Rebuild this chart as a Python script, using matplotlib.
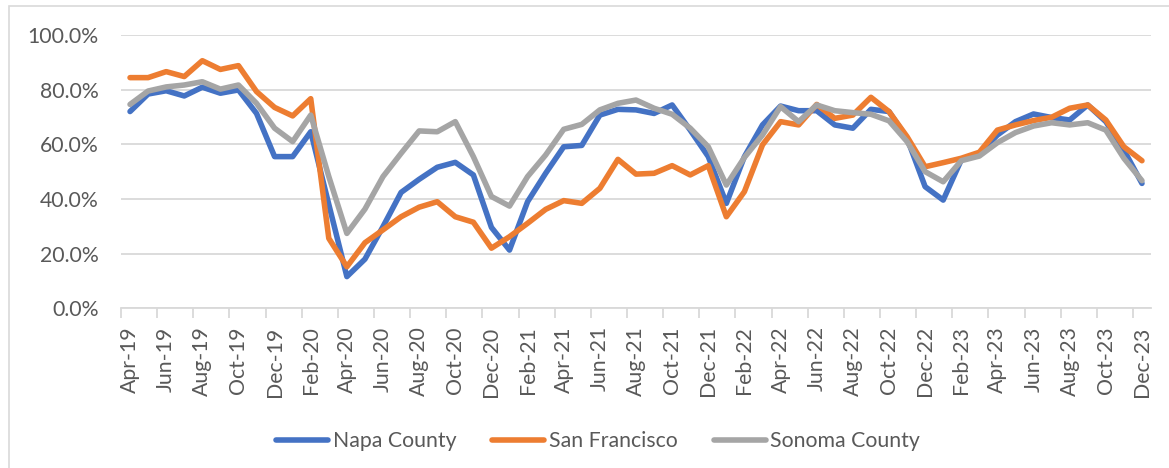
import matplotlib
matplotlib.use('Agg')
import matplotlib.pyplot as plt
import numpy as np
import pandas as pd
from matplotlib.patches import Rectangle
from matplotlib.ticker import PercentFormatter

months = pd.date_range('2019-04-01', '2023-12-01', freq='MS').strftime('%b-%y').tolist()

napa = [72.0, 78.4, 79.6, 77.7, 80.9, 78.7, 79.9, 71.3, 55.5, 55.5, 64.6, 38.0,
        11.6, 18.0, 29.9, 42.4, 47.2, 51.6, 53.4, 48.8, 29.6, 21.3, 39.0, 49.4,
        59.1, 59.6, 70.7, 72.8, 72.6, 71.3, 74.4, 65.2, 55.5, 38.4, 55.5, 67.1,
        74.0, 72.3, 72.3, 67.1, 65.9, 72.8, 72.0, 62.2, 44.5, 39.6, 54.3, 56.7,
        63.4, 68.3, 71.1, 69.8, 68.9, 74.4, 68.3, 57.9, 45.7]
san_francisco = [84.4, 84.4, 86.6, 84.8, 90.6, 87.4, 88.8, 79.3, 73.5, 70.4, 76.7, 25.6,
                 15.2, 24.0, 28.7, 33.5, 37.0, 39.0, 33.5, 31.5, 22.0, 26.2, 31.1, 36.2,
                 39.4, 38.4, 43.9, 54.5, 49.1, 49.4, 52.2, 48.8, 52.2, 33.5, 42.7, 59.8,
                 68.3, 67.1, 74.6, 69.5, 70.7, 77.2, 72.0, 62.8, 51.8, 53.3, 54.9, 57.1,
                 65.2, 67.1, 68.7, 69.9, 73.2, 74.4, 68.9, 59.1, 54.0]
sonoma = [74.6, 79.5, 81.0, 81.7, 82.9, 80.2, 81.7, 75.0, 65.9, 61.0, 70.7, 48.2,
          27.4, 36.3, 48.2, 56.7, 64.9, 64.6, 68.3, 55.5, 40.9, 37.4, 48.2, 56.1,
          65.5, 67.3, 72.6, 75.0, 76.2, 73.2, 71.0, 65.9, 59.1, 45.1, 55.2, 63.4,
          73.8, 68.3, 74.4, 72.3, 71.6, 71.0, 68.6, 61.0, 50.0, 46.3, 54.0, 55.7,
          60.6, 64.3, 66.7, 67.9, 67.1, 67.9, 65.2, 54.9, 46.7]

series = [('Napa County', napa, '#4472C4'),
          ('San Francisco', san_francisco, '#ED7D31'),
          ('Sonoma County', sonoma, '#A5A5A5')]

plt.rcParams['font.family'] = ['Lato', 'DejaVu Sans']
txt = '#595959'
grid = '#D9D9D9'
fs = 15.3

fig = plt.figure(figsize=(11.69, 4.68), dpi=100)
ax = fig.add_axes([121/1169, 1 - 308.3/468, 1030/1169, 273.3/468])

x = np.arange(len(months))
for name, vals, col in series:
    ax.plot(x, np.array(vals) / 100, color=col, linewidth=4, label=name,
            solid_joinstyle='round', solid_capstyle='round')

ax.set_xlim(-0.5, len(months) - 0.5)
ax.set_ylim(0, 1)
ax.set_yticks(np.arange(0, 1.01, 0.2))
ax.yaxis.set_major_formatter(PercentFormatter(1.0, decimals=1))
ax.grid(axis='y', color=grid, linewidth=1.3)
ax.set_axisbelow(True)

# labels every other month, tick marks on category boundaries
ax.set_xticks(x[::2])
ax.set_xticklabels(months[::2], rotation=90)
ax.set_xticks(np.arange(-0.5, len(months) - 1, 2), minor=True)
ax.tick_params(axis='x', which='major', length=0, pad=13, labelsize=fs, labelcolor=txt)
ax.tick_params(axis='x', which='minor', length=7, width=1.3, color=grid)
ax.tick_params(axis='y', length=0, pad=16, labelsize=fs, labelcolor=txt)

for s in ['top', 'right', 'left']:
    ax.spines[s].set_visible(False)
ax.spines['bottom'].set_color(grid)
ax.spines['bottom'].set_linewidth(1.3)

fig.legend(loc='center', bbox_to_anchor=(598/1169, 1 - 441/468), ncol=3,
           frameon=False, fontsize=fs, labelcolor=txt, handlelength=2.45,
           handletextpad=0.2, columnspacing=1.7)

fig.patches.append(Rectangle((9/1169, -0.1), 1.2, 1 - 6/468 + 0.1,
                             transform=fig.transFigure, fill=False,
                             edgecolor=grid, linewidth=1.2))

plt.savefig('out.png', dpi=100)
